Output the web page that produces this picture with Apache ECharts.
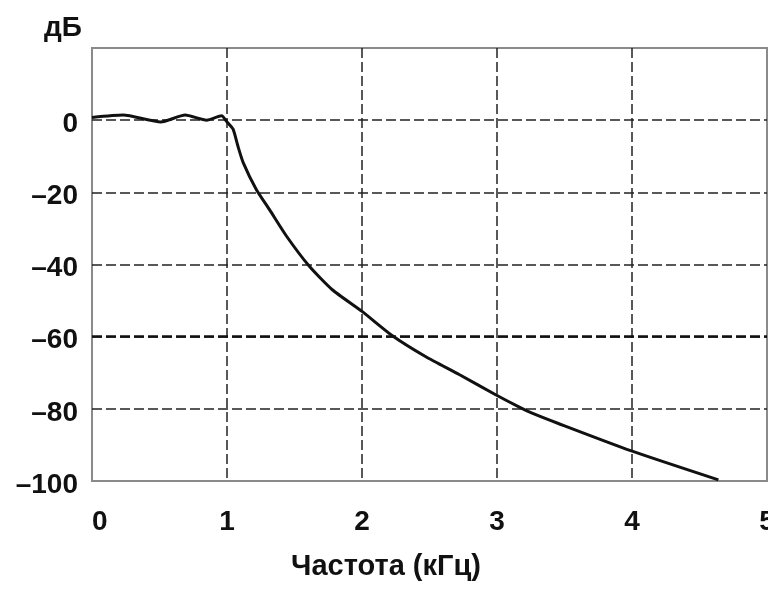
<!DOCTYPE html>
<html>
<head>
<meta charset="utf-8">
<script src="https://cdn.jsdelivr.net/npm/echarts@6/dist/echarts.min.js"></script>
<style>
html,body{margin:0;padding:0;background:#fff;}
#chart{width:768px;height:591px;}
</style>
</head>
<body>
<div id="chart"></div>
<script>
// Frequency (kHz)
var freq = [0, 0.23, 0.51, 0.69, 0.85, 0.96, 1.0, 1.045, 1.08, 1.12, 1.217, 1.315, 1.44, 1.61, 1.78, 2.0, 2.22, 2.47, 2.72, 2.99, 3.18, 3.26, 3.45, 3.99, 4.64];
// Magnitude (dB)
var gainDb = [0.75, 1.4, -0.5, 1.4, 0, 1.2, -0.5, -2.5, -7.1, -11.75, -19.2, -24.8, -32.1, -40.5, -47, -53, -59.6, -65.5, -70.5, -76.1, -79.8, -81.2, -84, -91.6, -99.7];
var xTicks = [0, 1, 2, 3, 4, 5];
var yTicks = [-100, -80, -60, -40, -20, 0];
var yUnit = 'дБ';
var xName = 'Частота (кГц)';

var points = freq.map(function (f, i) { return [f, gainDb[i]]; });
var FONT = 'Liberation Sans, Arial, sans-serif';
var chart = echarts.init(document.getElementById('chart'));
chart.setOption({
  animation: false,
  backgroundColor: '#fff',
  title: [
    { text: yUnit, left: 39, top: 9, textStyle: { fontFamily: FONT, fontWeight: 'bold', fontSize: 28, color: '#111' } },
    { text: xName, left: 286, top: 547, textStyle: { fontFamily: FONT, fontWeight: 'bold', fontSize: 29, color: '#111' } }
  ],
  grid: { left: 92, right: 1, top: 48, bottom: 110, outerBoundsMode: 'none', containLabel: false, show: true, borderColor: '#8a8a8a', borderWidth: 2, backgroundColor: 'transparent' },
  xAxis: {
    type: 'value', min: 0, max: 5, interval: 1,
    axisLine: { show: false }, axisTick: { show: false },
    axisLabel: {
      margin: 27, fontFamily: FONT, fontWeight: 'bold', fontSize: 28, color: '#111',
      alignMinLabel: 'left',
      formatter: function (v) { return xTicks.indexOf(v) >= 0 ? String(v) : ''; }
    },
    splitLine: { show: true, showMinLine: false, showMaxLine: false, lineStyle: { color: '#222', width: 1.5, type: [10, 4] } }
  },
  yAxis: {
    type: 'value', min: -100, max: 20, interval: 20,
    axisLine: { show: false }, axisTick: { show: false },
    axisLabel: {
      margin: 14, fontFamily: FONT, fontWeight: 'bold', fontSize: 28, color: '#111',
      verticalAlign: 'top', lineHeight: 8,
      formatter: function (v) { return yTicks.indexOf(v) >= 0 ? String(v).replace('-', '\u2013') : ''; }
    },
    splitLine: { show: true, showMinLine: false, showMaxLine: false, lineStyle: { color: '#222', width: 1.5, type: [10, 4] } }
  },
  series: [{
    type: 'line',
    data: points,
    showSymbol: false,
    smooth: 0.2,
    lineStyle: { color: '#111', width: 3 },
    markLine: {
      silent: true, symbol: 'none', label: { show: false },
      lineStyle: { color: '#111', width: 2.5, type: [10, 4] },
      data: [{ yAxis: -60 }]
    },
    z: 5
  }]
});
</script>
</body>
</html>
